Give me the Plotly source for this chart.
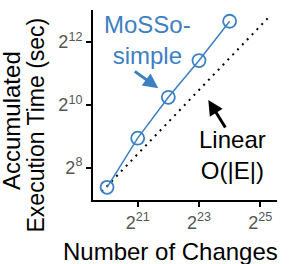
import plotly.graph_objects as go

# Data (log2-scaled axes)
changes = [1048576, 2097152, 4194304, 8388608, 16777216]
mosso_time = [166, 491, 1210, 2720, 6470]
linear_x = [930000, 39600000]
linear_y = [151, 6900]

x_tickvals = [2**21, 2**23, 2**25]
x_ticktext = ["2<sup>21</sup>", "2<sup>23</sup>", "2<sup>25</sup>"]
y_tickvals = [2**8, 2**10, 2**12]
y_ticktext = ["2<sup>8</sup>", "2<sup>10</sup>", "2<sup>12</sup>"]

BLUE = "#3c80c2"
FONT = "Liberation Sans, Arial, sans-serif"

fig = go.Figure()
fig.add_trace(go.Scatter(
    x=linear_x, y=linear_y, mode="lines",
    line=dict(color="black", width=2, dash="2px,5px"),
    showlegend=False, hoverinfo="skip"))
fig.add_trace(go.Scatter(
    x=changes, y=mosso_time, mode="lines+markers",
    line=dict(color=BLUE, width=1.5),
    marker=dict(symbol="circle-open", size=13, color=BLUE, line=dict(width=1.8, color=BLUE)),
    showlegend=False))

axis_common = dict(
    type="log", showgrid=False, zeroline=False,
    showline=True, linecolor="black", linewidth=2,
    ticks="outside", ticklen=5, tickwidth=2, tickcolor="black",
    tickfont=dict(family=FONT, size=18, color="#555555"),
)

fig.update_layout(
    width=291, height=264,
    margin=dict(l=93, r=14, t=10, b=64),
    paper_bgcolor="white", plot_bgcolor="white",
    font=dict(family=FONT),
    xaxis=dict(range=[5.8827, 7.6898], tickvals=x_tickvals, ticktext=x_ticktext, **axis_common),
    yaxis=dict(range=[2.0988, 3.9188], tickvals=y_tickvals, ticktext=y_ticktext, **axis_common),
)

def px_to_paper(px, py):
    return (px - 93) / 184, (200 - py) / 190

anns = []
# axis titles
xp, yp = px_to_paper(170.5, 251)
anns.append(dict(text="Number of Changes", x=xp, y=yp, xref="paper", yref="paper",
                 xanchor="center", yanchor="middle", showarrow=False,
                 font=dict(family=FONT, size=24, color="black")))
xp, yp = px_to_paper(11, 121)
anns.append(dict(text="Accumulated", x=xp, y=yp, xref="paper", yref="paper", textangle=-90,
                 xanchor="center", yanchor="middle", showarrow=False,
                 font=dict(family=FONT, size=24, color="black")))
xp, yp = px_to_paper(35.5, 125)
anns.append(dict(text="Execution Time (sec)", x=xp, y=yp, xref="paper", yref="paper", textangle=-90,
                 xanchor="center", yanchor="middle", showarrow=False,
                 font=dict(family=FONT, size=23, color="black")))
# labels
xp, yp = px_to_paper(147, 39.5)
anns.append(dict(text="MoSSo-<br>simple", x=xp, y=yp, xref="paper", yref="paper",
                 xanchor="center", yanchor="middle", showarrow=False,
                 font=dict(family=FONT, size=24, color=BLUE)))
xp, yp = px_to_paper(232, 154.5)
anns.append(dict(text="Linear<br>O(|E|)", x=xp, y=yp, xref="paper", yref="paper",
                 xanchor="center", yanchor="middle", showarrow=False,
                 font=dict(family=FONT, size=24, color="black")))
# arrows
xp, yp = px_to_paper(158.3, 88.3)
anns.append(dict(text="", x=xp, y=yp, xref="paper", yref="paper", ax=-25, ay=-18,
                 showarrow=True, arrowhead=2, arrowsize=1, arrowwidth=3, arrowcolor=BLUE))
xp, yp = px_to_paper(208.3, 100)
anns.append(dict(text="", x=xp, y=yp, xref="paper", yref="paper", ax=18, ay=29,
                 showarrow=True, arrowhead=2, arrowsize=1, arrowwidth=3, arrowcolor="black"))

fig.update_layout(annotations=anns)
fig.write_html("out.html", config={"displayModeBar": False},
               post_script="document.body.style.margin='0';")
